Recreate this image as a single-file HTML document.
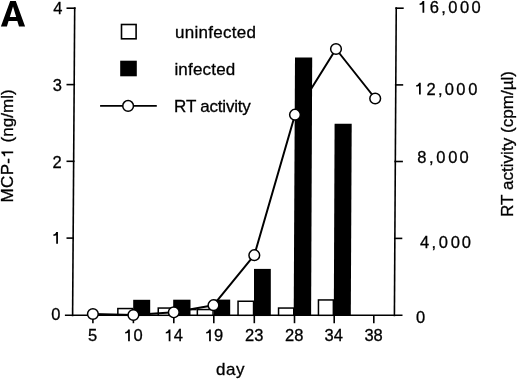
<!DOCTYPE html>
<html><head><meta charset="utf-8"><style>
html,body{margin:0;padding:0;background:#fff;}
svg{display:block;will-change:transform;}
text{font-family:"Liberation Sans",sans-serif;fill:#000;stroke:#000;stroke-width:0.3px;}
</style></head><body>
<svg width="520" height="381" viewBox="0 0 520 381">
<rect width="520" height="381" fill="#fff"/>
<g stroke="#000" fill="none" stroke-linecap="butt">
<line x1="74.7" y1="7.3" x2="72.6" y2="316.2" stroke-width="1.6"/>
<line x1="66.5" y1="8.2" x2="75.59388151505343" y2="8.2" stroke-width="1.6"/>
<line x1="66.5" y1="84.6" x2="75.07449012625446" y2="84.6" stroke-width="1.6"/>
<line x1="66.5" y1="161.3" x2="74.5530592424733" y2="161.3" stroke-width="1.6"/>
<line x1="66.5" y1="238.1" x2="74.0309485270314" y2="238.1" stroke-width="1.6"/>
<line x1="64.9" y1="315.2" x2="402.5" y2="315.2" stroke-width="1.6"/>
<line x1="396.25" y1="7.3" x2="394.4" y2="316.2" stroke-width="1.6"/>
<line x1="395.34460990611854" y1="8.2" x2="403.7" y2="8.2" stroke-width="1.6"/>
<line x1="394.8852541275494" y1="84.9" x2="403.2" y2="84.9" stroke-width="1.6"/>
<line x1="394.42649724830045" y1="161.5" x2="402.9" y2="161.5" stroke-width="1.6"/>
<line x1="393.965943671091" y1="238.4" x2="402.3" y2="238.4" stroke-width="1.6"/>
<line x1="92.9" y1="315.3" x2="92.9" y2="323.2" stroke-width="1.6"/>
<line x1="133.4" y1="315.3" x2="133.4" y2="323.2" stroke-width="1.6"/>
<line x1="173.8" y1="315.3" x2="173.8" y2="323.2" stroke-width="1.6"/>
<line x1="213.8" y1="315.3" x2="213.8" y2="323.2" stroke-width="1.6"/>
<line x1="254.3" y1="315.3" x2="254.3" y2="323.2" stroke-width="1.6"/>
<line x1="294.5" y1="315.3" x2="294.5" y2="323.2" stroke-width="1.6"/>
<line x1="334.2" y1="315.3" x2="334.2" y2="323.2" stroke-width="1.6"/>
<line x1="373.8" y1="315.3" x2="373.8" y2="323.2" stroke-width="1.6"/>
<line x1="190.3" y1="309.55" x2="196.6" y2="309.55" stroke-width="1.5"/>
<rect x="117.85" y="308.55" width="14.70" height="6.75" fill="#fff" stroke-width="1.5"/>
<rect x="133.95" y="300.55" width="15.50" height="14.75" fill="#000" stroke-width="1.5"/>
<rect x="158.25" y="308.05" width="14.60" height="7.25" fill="#fff" stroke-width="1.5"/>
<rect x="173.95" y="300.45" width="15.80" height="14.85" fill="#000" stroke-width="1.5"/>
<rect x="197.35" y="309.55" width="15.70" height="5.75" fill="#fff" stroke-width="1.5"/>
<rect x="214.55" y="300.35" width="14.90" height="14.95" fill="#000" stroke-width="1.5"/>
<rect x="238.05" y="301.25" width="15.50" height="14.05" fill="#fff" stroke-width="1.5"/>
<rect x="254.75" y="269.65" width="15.30" height="45.65" fill="#000" stroke-width="1.5"/>
<rect x="278.55" y="308.05" width="15.20" height="7.25" fill="#fff" stroke-width="1.5"/>
<polygon points="293.7,315.3 311.1,315.3 312.2,57.4 295.0,57.4" fill="#000" stroke="none"/>
<rect x="318.45" y="299.95" width="14.90" height="15.35" fill="#fff" stroke-width="1.5"/>
<polygon points="333.8,315.3 350.8,315.3 351.7,123.7 334.6,123.7" fill="#000" stroke="none"/>
<polyline points="92.9,314.0 133.4,315.0 173.8,312.3 213.5,305.2 254.3,255.2 295.0,114.7 336.0,49.0 375.2,98.5" stroke-width="2.0" fill="none" stroke-linejoin="round"/>
<circle cx="92.9" cy="314.0" r="5.35" fill="#fff" stroke-width="1.5"/>
<circle cx="133.4" cy="315.0" r="5.35" fill="#fff" stroke-width="1.5"/>
<circle cx="173.8" cy="312.3" r="5.35" fill="#fff" stroke-width="1.5"/>
<circle cx="213.5" cy="305.2" r="5.35" fill="#fff" stroke-width="1.5"/>
<circle cx="254.3" cy="255.2" r="5.35" fill="#fff" stroke-width="1.5"/>
<circle cx="295.0" cy="114.7" r="5.35" fill="#fff" stroke-width="1.5"/>
<circle cx="336.0" cy="49.0" r="5.35" fill="#fff" stroke-width="1.5"/>
<circle cx="375.2" cy="98.5" r="5.35" fill="#fff" stroke-width="1.5"/>
<rect x="121.5" y="24.5" width="14.6" height="14.3" fill="#fff" stroke-width="1.6"/>
<rect x="120.2" y="60.7" width="16.6" height="15.6" fill="#000" stroke="none"/>
<line x1="100.1" y1="105.9" x2="156.8" y2="105.9" stroke-width="1.6"/>
<circle cx="128.1" cy="105.9" r="5.35" fill="#fff" stroke-width="1.5"/>
</g>
<path d="M0.9,26.4 L10.2,0.9 L15.8,0.9 L25.1,26.4 L19,26.4 L17.32,20.9 L8.58,20.9 L6.9,26.4 Z M13,6.4 L9.8,16.9 L16.2,16.9 Z" fill="#000" fill-rule="evenodd" stroke="none"/>
<text x="53.29" y="13.80" font-size="16.5">4</text>
<text x="52.84" y="90.80" font-size="16.5">3</text>
<text x="52.38" y="167.50" font-size="16.5">2</text>
<path transform="translate(53.20,243.70)" d="M3.0,-11.8 L4.75,-11.8 L4.75,0 L3.0,0 L3.0,-8.5 C2.3,-8.0 1.3,-7.9 0.1,-7.9 L0.1,-9.3 C1.6,-9.4 2.6,-10.3 3.0,-11.8 Z" fill="#000" stroke="none"/>
<text x="51.34" y="320.30" font-size="16.5">0</text>
<path transform="translate(419.50,12.80)" d="M3.0,-11.8 L4.75,-11.8 L4.75,0 L3.0,0 L3.0,-8.5 C2.3,-8.0 1.3,-7.9 0.1,-7.9 L0.1,-9.3 C1.6,-9.4 2.6,-10.3 3.0,-11.8 Z" fill="#000" stroke="none"/>
<text x="429.81" y="12.80" font-size="16.5">6</text>
<text x="441.29" y="12.80" font-size="16.5">,</text>
<text x="448.14" y="12.80" font-size="16.5">0</text>
<text x="459.89" y="12.80" font-size="16.5">0</text>
<text x="471.59" y="12.80" font-size="16.5">0</text>
<path transform="translate(416.00,94.50)" d="M3.0,-11.8 L4.75,-11.8 L4.75,0 L3.0,0 L3.0,-8.5 C2.3,-8.0 1.3,-7.9 0.1,-7.9 L0.1,-9.3 C1.6,-9.4 2.6,-10.3 3.0,-11.8 Z" fill="#000" stroke="none"/>
<text x="426.43" y="94.50" font-size="16.5">2</text>
<text x="438.09" y="94.50" font-size="16.5">,</text>
<text x="444.74" y="94.50" font-size="16.5">0</text>
<text x="456.24" y="94.50" font-size="16.5">0</text>
<text x="468.19" y="94.50" font-size="16.5">0</text>
<text x="417.18" y="162.60" font-size="16.5">8</text>
<text x="428.89" y="162.60" font-size="16.5">,</text>
<text x="436.34" y="162.60" font-size="16.5">0</text>
<text x="448.19" y="162.60" font-size="16.5">0</text>
<text x="459.49" y="162.60" font-size="16.5">0</text>
<text x="420.04" y="248.00" font-size="16.5">4</text>
<text x="431.39" y="248.00" font-size="16.5">,</text>
<text x="438.84" y="248.00" font-size="16.5">0</text>
<text x="450.74" y="248.00" font-size="16.5">0</text>
<text x="461.74" y="248.00" font-size="16.5">0</text>
<text x="416.09" y="323.20" font-size="16.5">0</text>
<text x="88.08" y="341.30" font-size="16.5">5</text>
<path transform="translate(125.10,341.30)" d="M3.0,-11.8 L4.75,-11.8 L4.75,0 L3.0,0 L3.0,-8.5 C2.3,-8.0 1.3,-7.9 0.1,-7.9 L0.1,-9.3 C1.6,-9.4 2.6,-10.3 3.0,-11.8 Z" fill="#000" stroke="none"/>
<text x="133.44" y="341.30" font-size="16.5">0</text>
<path transform="translate(165.70,341.30)" d="M3.0,-11.8 L4.75,-11.8 L4.75,0 L3.0,0 L3.0,-8.5 C2.3,-8.0 1.3,-7.9 0.1,-7.9 L0.1,-9.3 C1.6,-9.4 2.6,-10.3 3.0,-11.8 Z" fill="#000" stroke="none"/>
<text x="173.74" y="341.30" font-size="16.5">4</text>
<path transform="translate(206.10,341.30)" d="M3.0,-11.8 L4.75,-11.8 L4.75,0 L3.0,0 L3.0,-8.5 C2.3,-8.0 1.3,-7.9 0.1,-7.9 L0.1,-9.3 C1.6,-9.4 2.6,-10.3 3.0,-11.8 Z" fill="#000" stroke="none"/>
<text x="213.94" y="341.30" font-size="16.5">9</text>
<text x="245.03" y="341.30" font-size="16.5">2</text>
<text x="254.14" y="341.30" font-size="16.5">3</text>
<text x="284.93" y="341.30" font-size="16.5">2</text>
<text x="294.23" y="341.30" font-size="16.5">8</text>
<text x="324.59" y="341.30" font-size="16.5">3</text>
<text x="333.79" y="341.30" font-size="16.5">4</text>
<text x="364.44" y="341.30" font-size="16.5">3</text>
<text x="373.43" y="341.30" font-size="16.5">8</text>
<text x="215.95" y="375.20" font-size="17" letter-spacing="0.54">day</text>
<text x="174.97" y="37.50" font-size="17" letter-spacing="0.27">uninfected</text>
<text x="174.38" y="74.70" font-size="17" letter-spacing="0.20">infected</text>
<text x="174.12" y="111.60" font-size="17" letter-spacing="-0.20">RT activity</text>
<text transform="rotate(-90)" x="-202.38" y="13.20" font-size="17" letter-spacing="0.32">MCP-</text>
<path transform="rotate(-90) translate(-156.3,13.2)" d="M3.0,-11.8 L4.75,-11.8 L4.75,0 L3.0,0 L3.0,-8.5 C2.3,-8.0 1.3,-7.9 0.1,-7.9 L0.1,-9.3 C1.6,-9.4 2.6,-10.3 3.0,-11.8 Z" fill="#000" stroke="none"/>
<text transform="rotate(-90)" x="-142.50" y="13.20" font-size="17" letter-spacing="0.05">(ng/ml)</text>
<text transform="rotate(-90)" x="-216.97" y="513.30" font-size="17" letter-spacing="0.04">RT activity (cpm/µl)</text>
</svg>
</body></html>
